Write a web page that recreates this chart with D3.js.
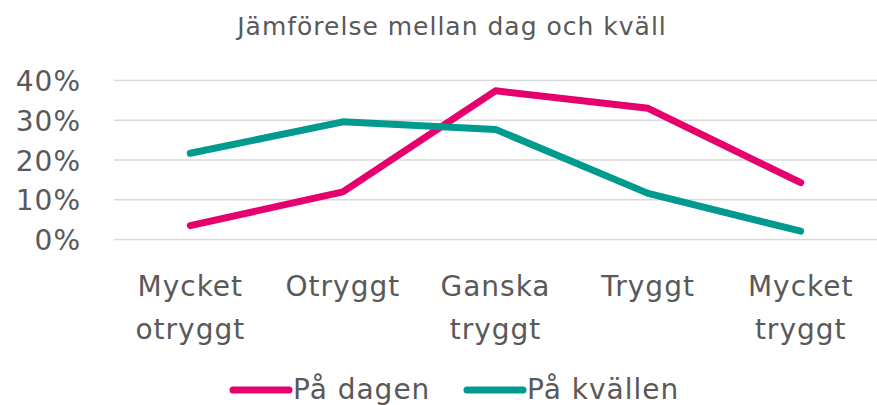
<!DOCTYPE html>
<html>
<head>
<meta charset="utf-8">
<script src="https://cdn.jsdelivr.net/npm/d3@7"></script>
<style>
  body { margin: 0; background: #fff; }
  text { font-family: "DejaVu Sans", sans-serif; fill: #595959; letter-spacing: 1px; }
</style>
</head>
<body>
<div id="chart"></div>
<script>
// Chart data
var categories = [["Mycket", "otryggt"], ["Otryggt"], ["Ganska", "tryggt"], ["Tryggt"], ["Mycket", "tryggt"]];
var seriesNames = ["På dagen", "På kvällen"];
var dagen = [0.035, 0.12, 0.374, 0.33, 0.143];
var kvallen = [0.217, 0.296, 0.277, 0.116, 0.021];
var yTicks = [0, 0.1, 0.2, 0.3, 0.4];
var colors = ["#e6006e", "#009a8e"];

var width = 877, height = 405;
var margin = {left: 114, right: 0, top: 80.5, bottom: 165.5};

var svg = d3.select("#chart").append("svg")
    .attr("width", width)
    .attr("height", height);

// Title
svg.append("text")
    .attr("x", 452)
    .attr("y", 35)
    .attr("text-anchor", "middle")
    .style("font-size", "25px")
    .text("Jämförelse mellan dag och kväll");

var x = d3.scaleBand()
    .domain(d3.range(categories.length))
    .range([margin.left, width - margin.right])
    .padding(0);

var y = d3.scaleLinear()
    .domain([0, 0.4])
    .range([height - margin.bottom, margin.top]);

// Gridlines
svg.append("g")
    .selectAll("line")
    .data(yTicks)
    .enter()
    .append("line")
    .attr("x1", margin.left)
    .attr("x2", width - margin.right)
    .attr("y1", function (d) { return y(d); })
    .attr("y2", function (d) { return y(d); })
    .style("stroke", "#d9d9d9")
    .style("stroke-width", 1.5);

// Y axis labels
var yAxis = d3.axisLeft(y)
    .tickValues(yTicks)
    .tickFormat(d3.format(".0%"))
    .tickSize(0)
    .tickPadding(0);

var yg = svg.append("g")
    .attr("transform", "translate(81,0)")
    .call(yAxis);
yg.select(".domain").remove();
yg.selectAll("text")
    .style("font-size", "28px")
    .style("font-family", null)
    .attr("dy", "0.36em");

// Category labels
var catLabels = svg.append("g")
    .selectAll("text")
    .data(categories)
    .enter()
    .append("text")
    .attr("text-anchor", "middle")
    .attr("x", function (d, i) { return x(i) + x.bandwidth() / 2; })
    .attr("y", 296)
    .style("font-size", "28px");

catLabels.selectAll("tspan")
    .data(function (d) { return d; })
    .enter()
    .append("tspan")
    .attr("x", function () { return d3.select(this.parentNode).attr("x"); })
    .attr("dy", function (d, i) { return i === 0 ? 0 : 43; })
    .text(function (d) { return d; });

// Lines
var line = d3.line()
    .x(function (d, i) { return x(i) + x.bandwidth() / 2; })
    .y(function (d) { return y(d); });

svg.append("g")
    .selectAll("path")
    .data([dagen, kvallen])
    .enter()
    .append("path")
    .attr("d", line)
    .style("fill", "none")
    .style("stroke", function (d, i) { return colors[i]; })
    .style("stroke-width", 7)
    .style("stroke-linecap", "round")
    .style("stroke-linejoin", "round");

// Legend
var legendX = [233, 467];
var legend = svg.append("g")
    .selectAll("g")
    .data(seriesNames)
    .enter()
    .append("g")
    .attr("transform", function (d, i) { return "translate(" + legendX[i] + ",390)"; });

legend.append("line")
    .attr("x1", 0)
    .attr("x2", 56)
    .style("stroke", function (d, i) { return colors[i]; })
    .style("stroke-width", 7)
    .style("stroke-linecap", "round");

legend.append("text")
    .attr("x", 60)
    .attr("y", 9)
    .style("font-size", "28px")
    .text(function (d) { return d; });
</script>
</body>
</html>
